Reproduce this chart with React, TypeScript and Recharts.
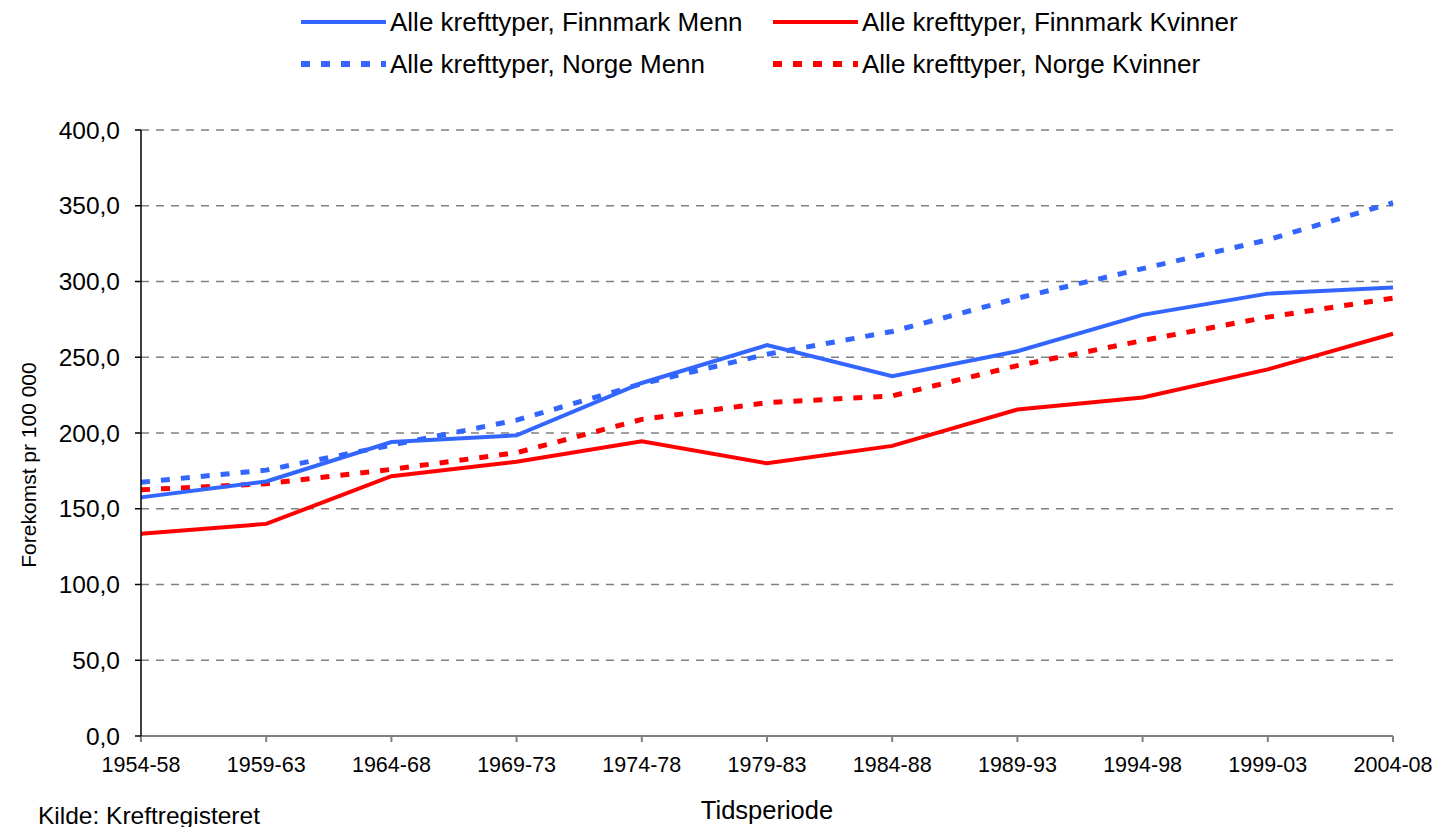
import { LineChart, Line, XAxis, YAxis, CartesianGrid } from 'recharts';

const periods = ['1954-58', '1959-63', '1964-68', '1969-73', '1974-78', '1979-83', '1984-88', '1989-93', '1994-98', '1999-03', '2004-08'];
const finnmarkMenn = [157.5, 168, 194, 198.5, 233, 258, 237.5, 254, 278, 292, 296];
const finnmarkKvinner = [133.5, 140, 171.5, 181, 194.5, 180, 191.5, 215.5, 223.5, 242, 265.5];
const norgeMenn = [167.5, 175.5, 192, 208.5, 232.5, 252, 267, 289, 308.5, 327.5, 352];
const norgeKvinner = [162.5, 166.5, 176, 187, 209, 220, 224.5, 244.5, 261, 276.5, 289];
const yTicks = [0, 50, 100, 150, 200, 250, 300, 350, 400];

const BLUE = '#3366FF';
const RED = '#FF0000';
const FONT = 'Arial, "Liberation Sans", sans-serif';

const data = periods.map((p, i) => ({
  period: p,
  fm: finnmarkMenn[i],
  fk: finnmarkKvinner[i],
  nm: norgeMenn[i],
  nk: norgeKvinner[i],
}));

const legendItems = [
  { label: 'Alle krefttyper, Finnmark Menn', color: BLUE, dashed: false, x: 300, y: 22 },
  { label: 'Alle krefttyper, Finnmark Kvinner', color: RED, dashed: false, x: 772, y: 22 },
  { label: 'Alle krefttyper, Norge Menn', color: BLUE, dashed: true, x: 300, y: 64 },
  { label: 'Alle krefttyper, Norge Kvinner', color: RED, dashed: true, x: 772, y: 64 },
];

const fmt = (v: number) => v.toFixed(1).replace('.', ',');

export default function App() {
  return (
    <div style={{ position: 'absolute', left: 0, top: 0, width: 1436, height: 827, background: '#fff', fontFamily: FONT }}>
      <LineChart width={1436} height={827} data={data} margin={{ top: 130, right: 43, left: 61, bottom: 51 }}>
        <CartesianGrid vertical={false} stroke="#808080" strokeWidth={1.5} strokeDasharray="8 7" horizontalValues={[50, 100, 150, 200, 250, 300, 350, 400]} />
        <XAxis
          dataKey="period"
          height={40}
          padding={{ left: 0, right: 0 }}
          stroke="#808080"
          strokeWidth={2}
          tickSize={6}
          tickMargin={15}
          tick={{ fill: '#000', fontSize: 21.5, fontFamily: FONT }}
          interval={0}
        />
        <YAxis
          width={80}
          domain={[0, 400]}
          ticks={yTicks}
          tickFormatter={fmt}
          stroke="#000"
          strokeWidth={1.5}
          tickSize={6}
          tickMargin={15}
          tick={{ fill: '#000', fontSize: 24.5, fontFamily: FONT }}
        />
        <Line type="linear" dataKey="nm" stroke={BLUE} strokeWidth={5} strokeDasharray="9 11" dot={false} isAnimationActive={false} />
        <Line type="linear" dataKey="nk" stroke={RED} strokeWidth={5} strokeDasharray="9 11" dot={false} isAnimationActive={false} />
        <Line type="linear" dataKey="fm" stroke={BLUE} strokeWidth={4} dot={false} isAnimationActive={false} />
        <Line type="linear" dataKey="fk" stroke={RED} strokeWidth={4} dot={false} isAnimationActive={false} />
      </LineChart>

      {legendItems.map((it) => (
        <div key={it.label} style={{ position: 'absolute', left: it.x, top: it.y - 15, height: 30, display: 'flex', alignItems: 'center' }}>
          <svg width={88} height={10} style={{ marginRight: 2 }}>
            <line x1={1} y1={5} x2={86} y2={5} stroke={it.color} strokeWidth={it.dashed ? 6 : 4} strokeDasharray={it.dashed ? '9 11' : undefined} />
          </svg>
          <span style={{ fontSize: 26, color: '#000', whiteSpace: 'nowrap' }}>{it.label}</span>
        </div>
      ))}

      <div style={{ position: 'absolute', left: 29, top: 465, transform: 'translate(-50%, -50%) rotate(-90deg)', fontSize: 21, whiteSpace: 'nowrap', color: '#000' }}>
        Forekomst pr 100 000
      </div>
      <div style={{ position: 'absolute', left: 767, top: 810, transform: 'translate(-50%, -50%)', fontSize: 25.5, whiteSpace: 'nowrap', color: '#000' }}>
        Tidsperiode
      </div>
      <div style={{ position: 'absolute', left: 38, top: 816, transform: 'translateY(-50%)', fontSize: 24.5, whiteSpace: 'nowrap', color: '#000' }}>
        Kilde: Kreftregisteret
      </div>
    </div>
  );
}
